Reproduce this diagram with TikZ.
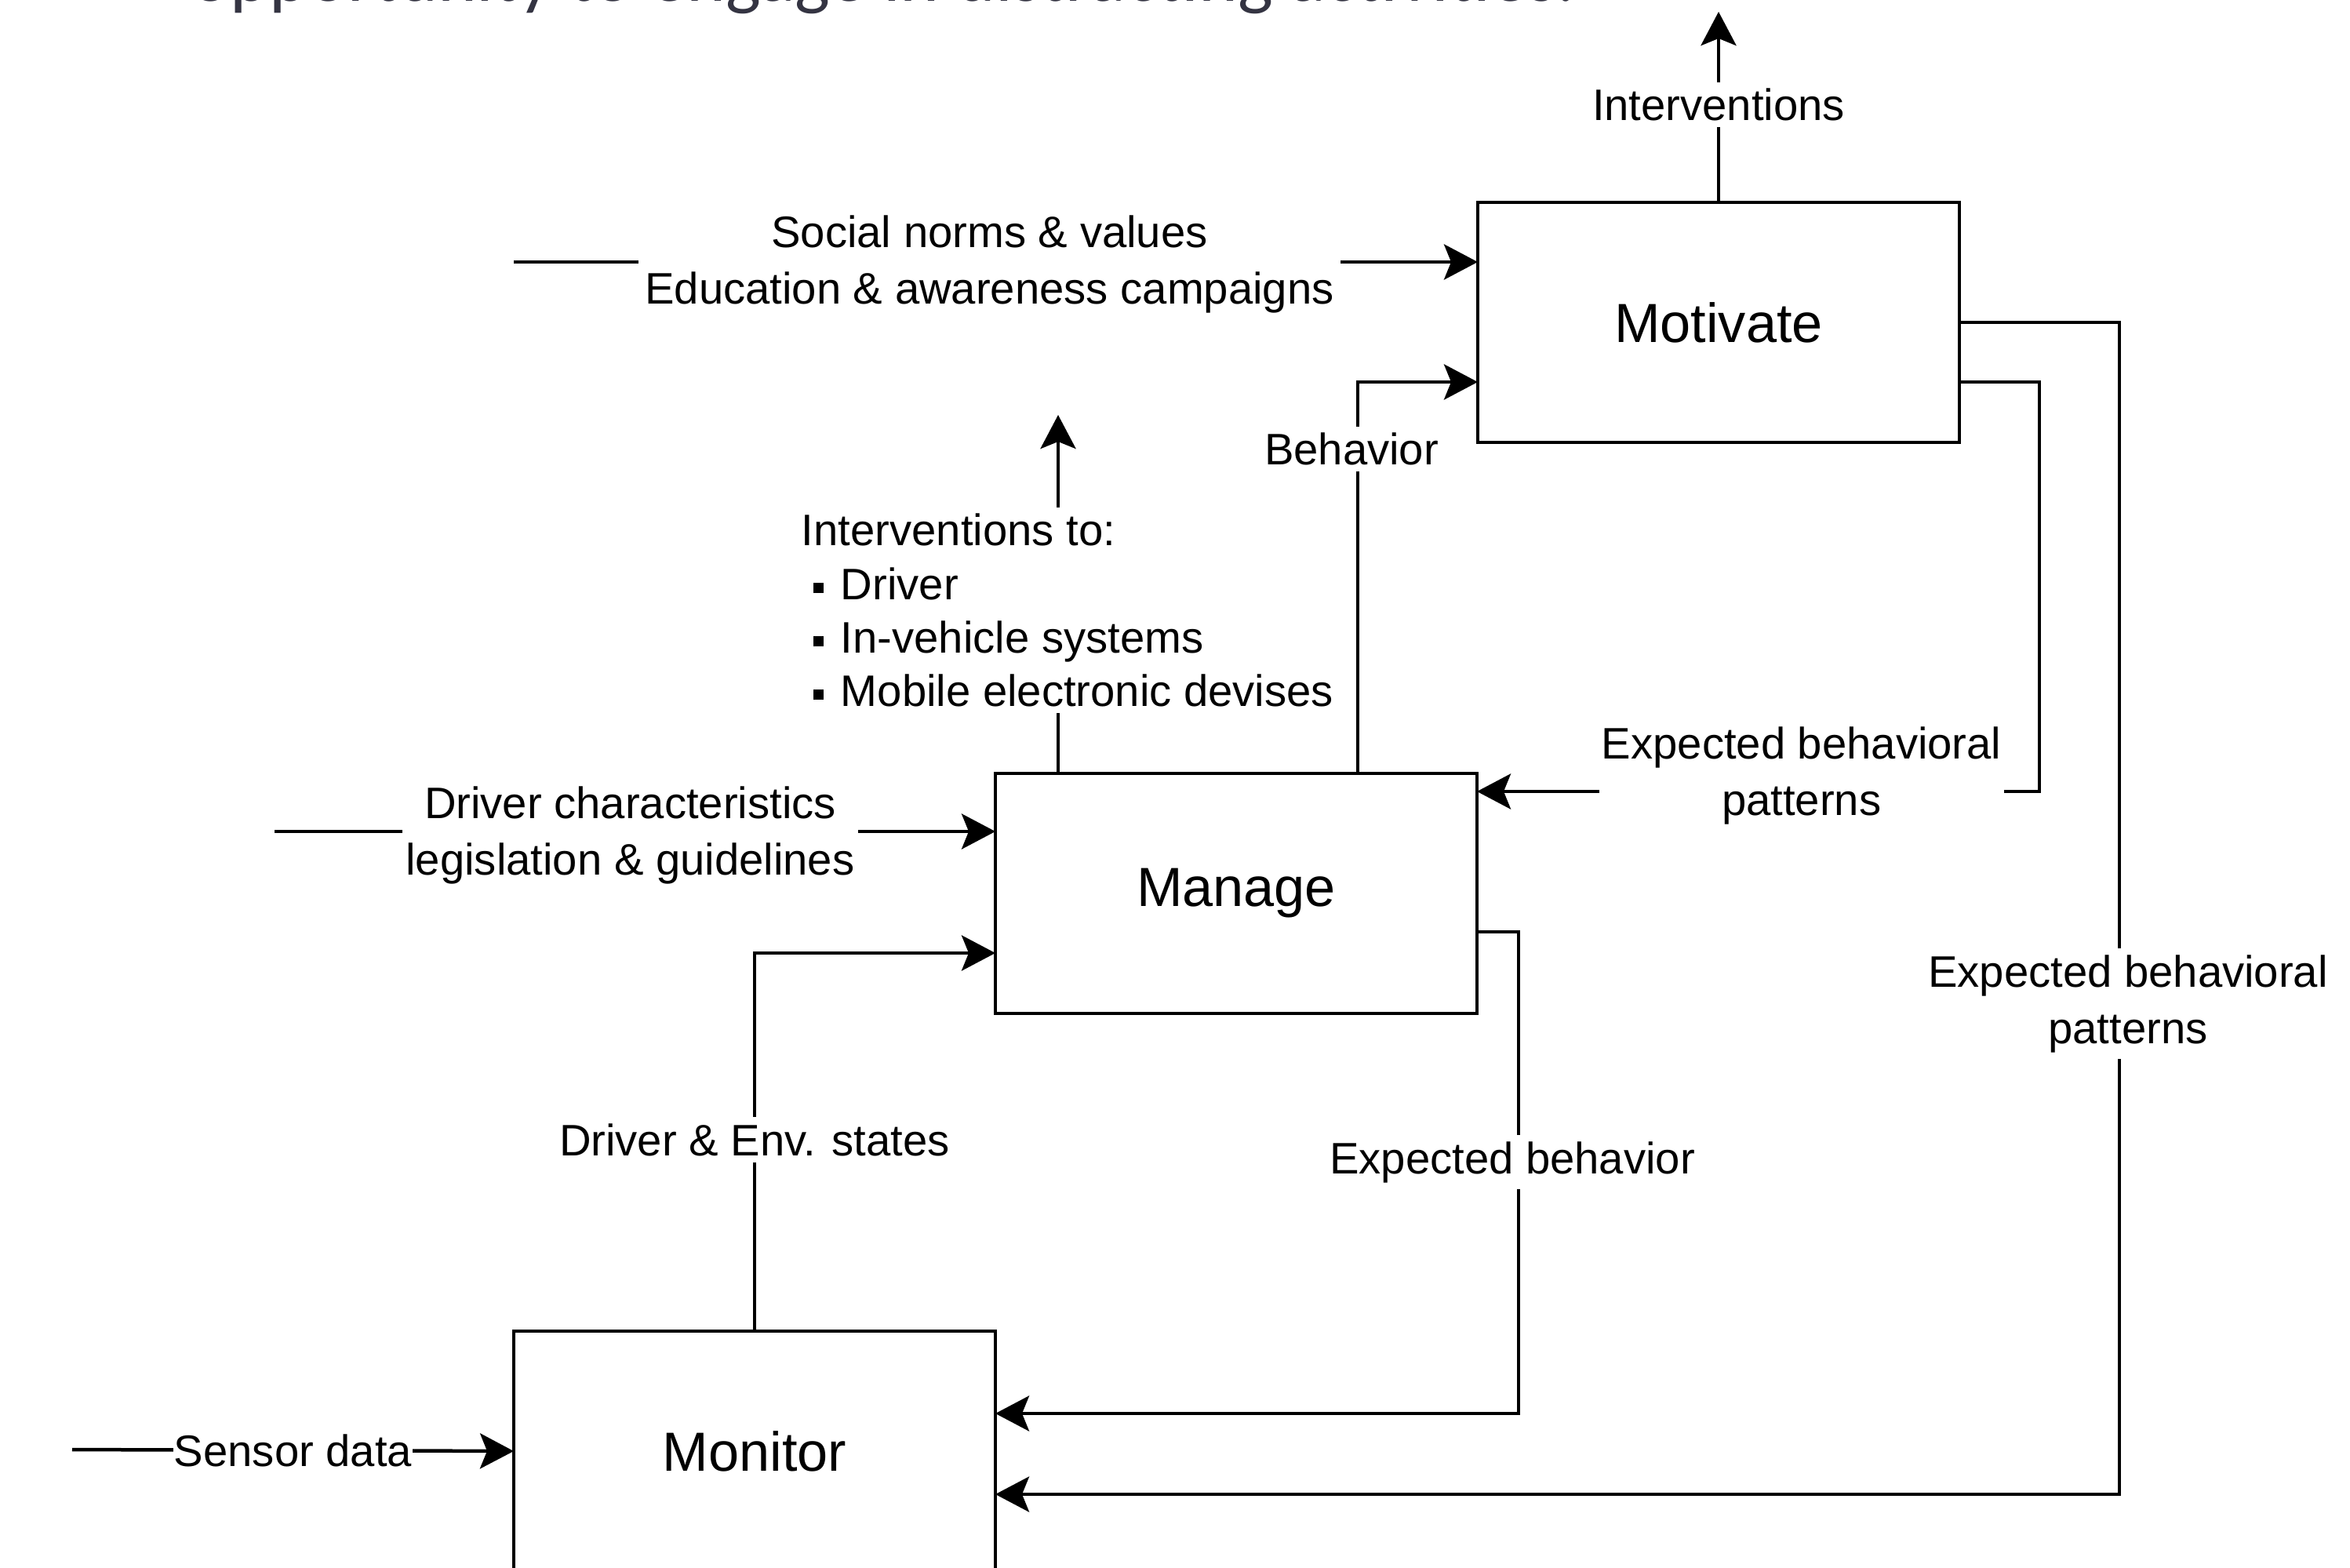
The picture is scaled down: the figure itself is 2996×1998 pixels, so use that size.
\documentclass[tikz,border=0pt]{standalone}
\usepackage{fontspec}
\setmainfont{Liberation Sans}
\newfontfamily\slidefont{Carlito}
\usetikzlibrary{arrows.meta}
\definecolor{slidegray}{RGB}{52,52,66}
\newcommand{\itembul}{\hspace*{1.5mm}\rule[0.8mm]{1.3mm}{1.3mm}\hspace{2.2mm}}

\begin{document}
\begin{tikzpicture}[x=0.1mm,y=-0.1mm,
  blk/.style={draw,line width=0.45mm,minimum width=61.4mm,minimum height=30.6mm,outer sep=0pt,font=\fontsize{20}{24}\selectfont},
  flow/.style={line width=0.45mm,-{Stealth[length=4.3mm,width=4.5mm,inset=0.9mm]}},
  lbl/.style={fill=white,inner sep=0.8mm,align=center,font=\fontsize{16}{20.5}\selectfont}]
  \useasboundingbox (0,0) rectangle (2996,1998);

  % cut-off line of the slide text
  \node[anchor=base west,inner sep=0pt,text=slidegray,font=\slidefont\fontsize{27}{32}\selectfont] (slidetxt) at (243,1) {opportunity to engage in distracting activities.};

  % blocks
  \node[blk] (mot) at (2191,411) {Motivate};
  \node[blk] (man) at (1576,1139) {Manage};
  \node[blk] (mon) at (962,1850) {Monitor};

  % free ends
  \coordinate (outtop) at (2191,15);
  \coordinate (socin) at (655,334);
  \coordinate (intup) at (1349,529);
  \coordinate (drvin) at (350,1060);
  \coordinate (sensin) at (92,1848);

  % inputs and outputs
  \draw[flow] (mot.north) -- (outtop) node[lbl,midway,yshift=0.3mm] {Interventions};
  \draw[flow] (socin) -- (socin -| mot.west) node[lbl,midway,xshift=-0.8mm,yshift=-0.3mm] {Social norms \& values\\Education \& awareness campaigns};
  \draw[flow] (man.north -| intup) -- (intup) node[lbl,pos=0.455,xshift=1.2mm,align=left,font=\fontsize{16}{19.4}\selectfont] {Interventions to:\\\itembul Driver\\\itembul In-vehicle systems\\\itembul Mobile electronic devises};
  \draw[flow] (drvin) -- (drvin -| man.west) node[lbl,midway,xshift=-0.6mm,yshift=-0.5mm,inner xsep=0.4mm] {Driver characteristics\\legislation \& guidelines};
  \draw[flow] (sensin) -- (mon.west) node[lbl,midway,inner sep=0.3pt] {Sensor data};

  % links between blocks
  \draw[flow] (man.north -| 1731,0) |- (mot.west |- 0,487) node[lbl,pos=0.414,xshift=-0.8mm] {Behavior};
  \draw[flow] (mon.north) |- (man.west |- 0,1215) node[lbl,pos=0.25,yshift=0.3mm] {Driver \& Env. states};
  \draw[flow] (mot.east |- 0,487) -| (2600,1009) -- (man.east |- 0,1009) node[lbl,pos=0.423,yshift=2mm,inner sep=0.3mm] {Expected behavioral\\patterns};
  \draw[flow] (mot.east) -| (2702,1905) node[lbl,pos=0.789,xshift=1.1mm,yshift=-0.5mm] {Expected behavioral\\patterns} -- (mon.east |- 0,1905);
  \draw[flow] (man.east |- 0,1188) -| (1936,1802) node[lbl,pos=0.739,xshift=-0.8mm] {Expected behavior} -- (mon.east |- 0,1802);
\end{tikzpicture}
\end{document}
